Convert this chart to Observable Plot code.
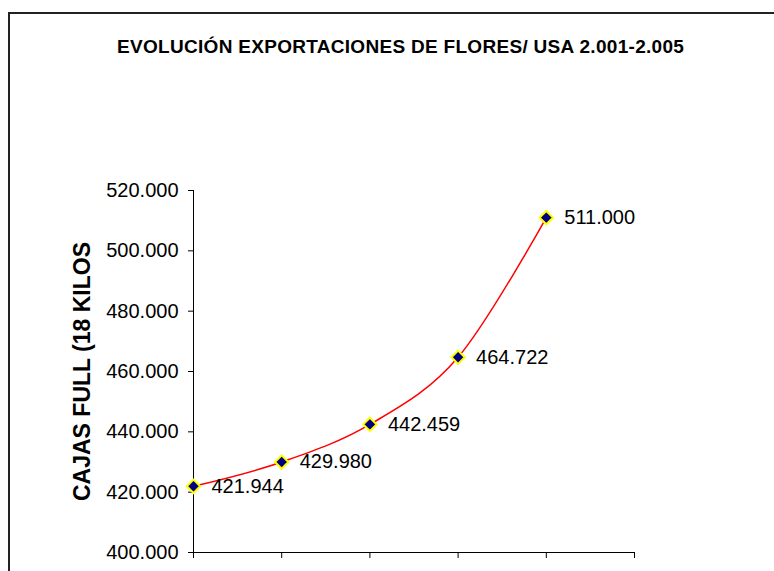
<!DOCTYPE html>
<html>
<head>
<meta charset="utf-8">
<script src="https://cdn.jsdelivr.net/npm/d3@7"></script>
<script src="https://cdn.jsdelivr.net/npm/@observablehq/plot@0.6"></script>
<style>
  html, body { margin: 0; padding: 0; background: #fff; overflow: hidden; }
  #wrap { position: relative; width: 774px; height: 571px; font-family: "Liberation Sans", Arial, sans-serif; }
  #frame { position: absolute; left: 8px; top: 12px; width: 800px; height: 600px; border-left: 2px solid #222; border-top: 2px solid #222; box-sizing: border-box; pointer-events: none; }
  #title { position: absolute; left: 117px; top: 36px; white-space: nowrap; font-weight: bold; font-size: 19px; letter-spacing: 0.3px; color: #000; }
  #chart { position: absolute; left: 0; top: 0; }
</style>
</head>
<body>
<div id="wrap">
  <div id="chart"></div>
  <div id="frame"></div>
  <div id="title">EVOLUCIÓN EXPORTACIONES DE FLORES/ USA 2.001-2.005</div>
</div>
<script>
const years = ["2001", "2002", "2003", "2004", "2005"];
const boxes = [421944, 429980, 442459, 464722, 511000];
const yTicks = [400000, 420000, 440000, 460000, 480000, 500000, 520000];
const yLabel = "CAJAS FULL (18 KILOS";

const data = years.map((yr, i) => ({year: yr, idx: i, value: boxes[i]}));
const loc = d3.formatLocale({decimal: ",", thousands: ".", grouping: [3], currency: ["", ""]});
const fmt = loc.format(",d");

const chart = Plot.plot({
  width: 774,
  height: 571,
  marginLeft: 193,
  marginRight: 140,
  marginTop: 190,
  marginBottom: 19,
  style: {fontFamily: "'Liberation Sans', Arial, sans-serif", background: "transparent", overflow: "visible"},
  x: {domain: [0, 5], ticks: [0, 1, 2, 3, 4, 5], axis: null},
  y: {domain: [400000, 520000], axis: null},
  marks: [
    Plot.axisX({ticks: [0, 1, 2, 3, 4, 5], tickSize: 6, tickFormat: () => "", stroke: "#000", label: null}),
    Plot.axisY({ticks: yTicks, tickSize: 5, tickPadding: 10, tickFormat: fmt, fontSize: 20, fill: "#000", stroke: "#000", label: null}),
    Plot.text([yLabel], {frameAnchor: "left", dx: -111, rotate: -90, textAnchor: "middle", fontSize: 23, fontWeight: "bold", fill: "#000", text: d => d}),
    Plot.ruleX([0], {stroke: "#000"}),
    Plot.ruleY([400000], {stroke: "#000"}),
    Plot.line(data, {x: "idx", y: "value", stroke: "#ff0000", strokeWidth: 1.5, curve: "cardinal", tension: 0}),
    Plot.dot(data, {x: "idx", y: "value", symbol: "diamond2", r: 6, fill: "#000080", stroke: "#ffff00", strokeWidth: 2}),
    Plot.text(data, {x: "idx", y: "value", text: d => fmt(d.value), dx: 18, textAnchor: "start", fontSize: 20, fill: "#000"})
  ]
});
document.getElementById("chart").appendChild(chart);
</script>
</body>
</html>
